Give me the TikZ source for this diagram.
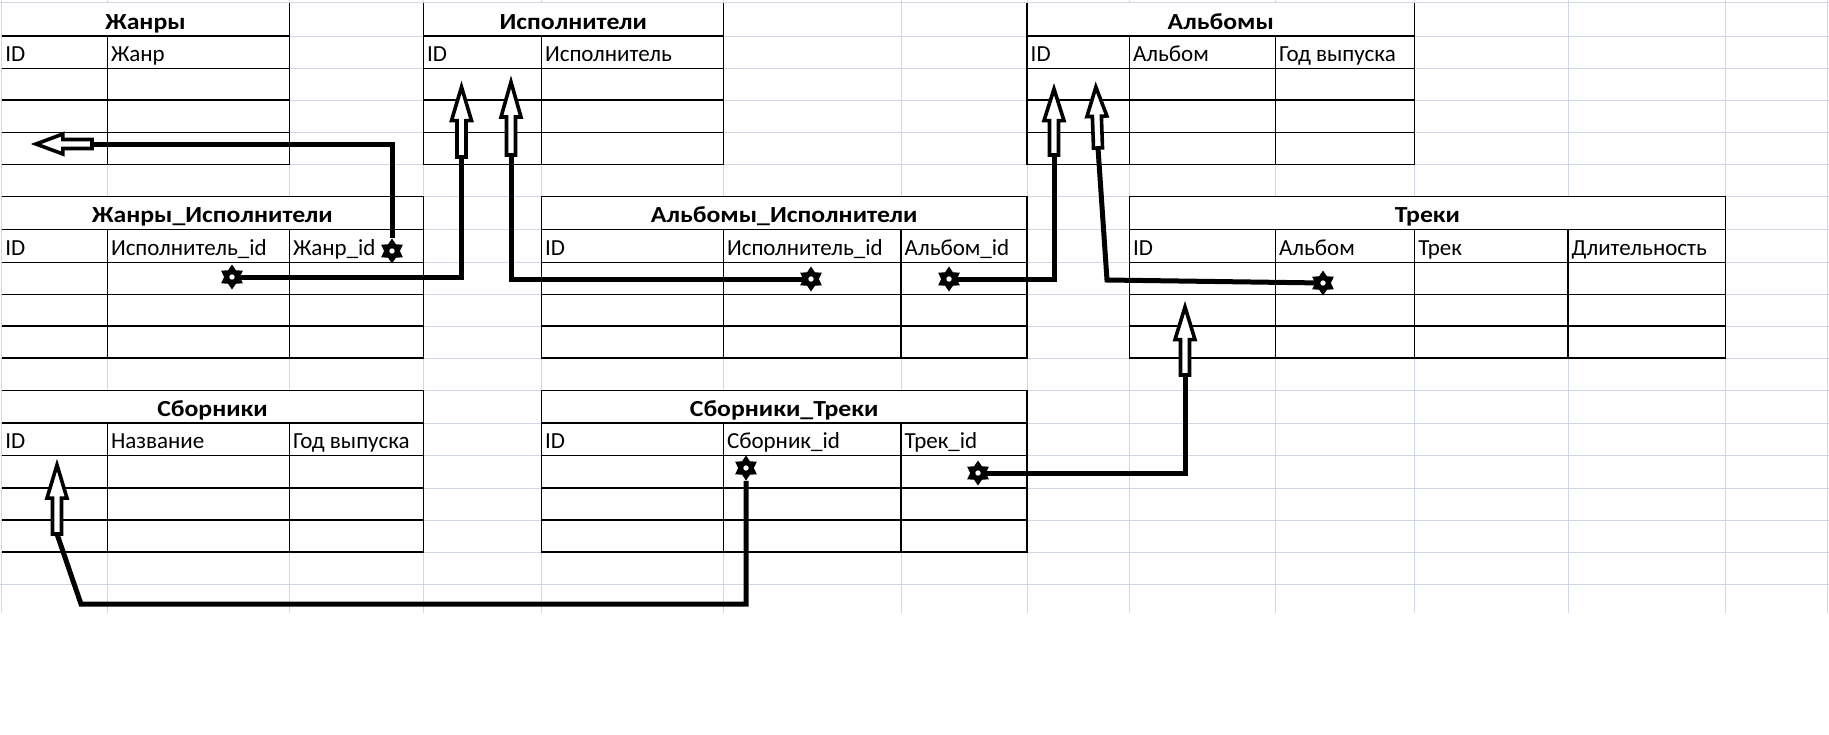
\documentclass[tikz,border=0pt]{standalone}
\usepackage{fontspec}
\setmainfont{Carlito}
\newfontfamily\titlefont{Carlito}[FakeStretch=1.12]
\usepackage{tikz}
\usetikzlibrary{shapes.geometric}

\definecolor{gridline}{RGB}{208,215,229}

\tikzset{
  gridrule/.style={draw=gridline, line width=1pt},
  cellrule/.style={draw=black, line width=1.2pt},
  celltext/.style={anchor=base west, inner sep=0pt, font=\fontsize{23}{27}\selectfont},
  tabletitle/.style={anchor=base, inner sep=0pt, font={\titlefont\bfseries\fontsize{23}{27}\selectfont}},
  link/.style={draw=black, line width=5pt},
  fkstar/.style={shape=star, star points=6, star point ratio=1.6, minimum size=25pt,
    inner sep=0pt, fill=black,
    path picture={\fill[white] (path picture bounding box.center) circle (2.7pt);}},
  idarrow/.style={draw=black, fill=white, line width=3.6pt},
}

% hollow arrow: tail, direction, length
\newcommand{\pkarrow}[3]{%
  \draw[idarrow, shift={(#1)}, rotate=#2]
    (0,-4.5) -- (#3*0.52,-4.5) -- (#3*0.52,-10) -- (#3,0) -- (#3*0.52,10)
    -- (#3*0.52,4.5) -- (0,4.5) -- cycle;}

\begin{document}
\begin{tikzpicture}[x=1pt,y=-1pt]
\useasboundingbox (0,0) rectangle (1829,734);
\fill[white] (0,0) rectangle (1829,734);

% сетка листа
\foreach \gx in {1.7,107.3,289.3,423.3,541.3,723.3,901,1027,1129.4,1275.4,1414.6,1568,1725.4,1827.7}
  \draw[gridrule] (\gx,0) -- (\gx,613.3);
\foreach \gy in {2.7,36,68.3,100,132.3,164.3,196.7,229.5,262.3,294.3,326,358,390.5,423,455.5,488,520,552,584}
  \draw[gridrule] (0,\gy) -- (1829,\gy);

% Жанры
\fill[white] (2.3,3.3) rectangle (289.3,36);
\draw[cellrule] (289.3,2.7) -- (289.3,164.3) -- (1.7,164.3);
\foreach \ry in {36,68.3,100,132.3} \draw[cellrule] (1.7,\ry) -- (289.3,\ry);
\draw[cellrule] (107.3,36) -- (107.3,164.3);
\node[tabletitle] (genres) at (145.5,29.3) {Жанры};
\node[celltext] (genres-id) at (5.2,61) {ID};
\node[celltext] (genres-name) at (110.8,61) {Жанр};

% Исполнители
\fill[white] (423.3,3.3) rectangle (723.3,36);
\draw[cellrule] (423.3,2.7) -- (423.3,164.3) -- (723.3,164.3) -- (723.3,2.7);
\foreach \ry in {36,68.3,100,132.3} \draw[cellrule] (423.3,\ry) -- (723.3,\ry);
\draw[cellrule] (541.3,36) -- (541.3,164.3);
\node[tabletitle] (artists) at (573.3,29.3) {Исполнители};
\node[celltext] (artists-id) at (426.8,61) {ID};
\node[celltext] (artists-name) at (544.8,61) {Исполнитель};

% Альбомы
\fill[white] (1027,3.3) rectangle (1414.6,36);
\draw[cellrule] (1027,2.7) -- (1027,164.3) -- (1414.6,164.3) -- (1414.6,2.7);
\foreach \ry in {36,68.3,100,132.3} \draw[cellrule] (1027,\ry) -- (1414.6,\ry);
\foreach \cx in {1129.4,1275.4} \draw[cellrule] (\cx,36) -- (\cx,164.3);
\node[tabletitle] (albums) at (1220.8,29.3) {Альбомы};
\node[celltext] (albums-id) at (1030.5,61) {ID};
\node[celltext] (albums-name) at (1132.9,61) {Альбом};
\node[celltext] (albums-year) at (1278.9,61) {Год выпуска};

% Жанры_Исполнители
\fill[white] (2.3,196.7) rectangle (423.3,229.5);
\draw[cellrule] (1.7,196.7) -- (423.3,196.7) -- (423.3,358) -- (1.7,358);
\foreach \ry in {229.5,262.3,294.3,326} \draw[cellrule] (1.7,\ry) -- (423.3,\ry);
\foreach \cx in {107.3,289.3} \draw[cellrule] (\cx,229.5) -- (\cx,358);
\node[tabletitle] (genreartist) at (212.5,222.5) {Жанры\_Исполнители};
\node[celltext] (ga-id) at (5.2,255.3) {ID};
\node[celltext] (ga-artist) at (110.8,255.3) {Исполнитель\_id};
\node[celltext] (ga-genre) at (292.8,255.3) {Жанр\_id};

% Альбомы_Исполнители
\fill[white] (541.3,196.7) rectangle (1027,229.5);
\draw[cellrule] (541.3,196.7) rectangle (1027,358);
\foreach \ry in {229.5,262.3,294.3,326} \draw[cellrule] (541.3,\ry) -- (1027,\ry);
\foreach \cx in {723.3,901} \draw[cellrule] (\cx,229.5) -- (\cx,358);
\node[tabletitle] (albumartist) at (784.2,222.5) {Альбомы\_Исполнители};
\node[celltext] (aa-id) at (544.8,255.3) {ID};
\node[celltext] (aa-artist) at (726.8,255.3) {Исполнитель\_id};
\node[celltext] (aa-album) at (904.5,255.3) {Альбом\_id};

% Треки
\fill[white] (1129.4,196.7) rectangle (1725.4,229.5);
\draw[cellrule] (1129.4,196.7) rectangle (1725.4,358);
\foreach \ry in {229.5,262.3,294.3,326} \draw[cellrule] (1129.4,\ry) -- (1725.4,\ry);
\foreach \cx in {1275.4,1414.6,1568} \draw[cellrule] (\cx,229.5) -- (\cx,358);
\node[tabletitle] (tracks) at (1427.4,222.5) {Треки};
\node[celltext] (tracks-id) at (1132.9,255.3) {ID};
\node[celltext] (tracks-album) at (1278.9,255.3) {Альбом};
\node[celltext] (tracks-name) at (1418.1,255.3) {Трек};
\node[celltext] (tracks-len) at (1571.5,255.3) {Длительность};

% Сборники
\fill[white] (2.3,390.5) rectangle (423.3,423);
\draw[cellrule] (1.7,390.5) -- (423.3,390.5) -- (423.3,552) -- (1.7,552);
\foreach \ry in {423,455.5,488,520} \draw[cellrule] (1.7,\ry) -- (423.3,\ry);
\foreach \cx in {107.3,289.3} \draw[cellrule] (\cx,423) -- (\cx,552);
\node[tabletitle] (comps) at (212.5,416) {Сборники};
\node[celltext] (comps-id) at (5.2,448.5) {ID};
\node[celltext] (comps-name) at (110.8,448.5) {Название};
\node[celltext] (comps-year) at (292.8,448.5) {Год выпуска};

% Сборники_Треки
\fill[white] (541.3,390.5) rectangle (1027,423);
\draw[cellrule] (541.3,390.5) rectangle (1027,552);
\foreach \ry in {423,455.5,488,520} \draw[cellrule] (541.3,\ry) -- (1027,\ry);
\foreach \cx in {723.3,901} \draw[cellrule] (\cx,423) -- (\cx,552);
\node[tabletitle] (comptrack) at (784.2,416) {Сборники\_Треки};
\node[celltext] (ct-id) at (544.8,448.5) {ID};
\node[celltext] (ct-comp) at (726.8,448.5) {Сборник\_id};
\node[celltext] (ct-track) at (904.5,448.5) {Трек\_id};

% внешние ключи
\node[fkstar] (s1) at (392,251) {};
\node[fkstar] (s2) at (232,277) {};
\node[fkstar] (s3) at (811,279) {};
\node[fkstar] (s4) at (949,279) {};
\node[fkstar] (s5) at (1323,283) {};
\node[fkstar] (s6) at (978,473) {};
\node[fkstar] (s7) at (746,468) {};

% концы стрелок у ID
\coordinate (tA) at (92,144);
\coordinate (tB) at (461.5,157);
\coordinate (tC) at (511,155);
\coordinate (tD) at (1054,155);
\coordinate (eCorner) at (1107,280);
\coordinate (tE) at (1098,148);
\coordinate (tF) at (1185,375);
\coordinate (gCorner) at (81,604);
\coordinate (tG) at (57,534);

% связи
\draw[link] (s1) |- (tA);
\draw[link] (s2) -| (tB);
\draw[link] (s3) -| (tC);
\draw[link] (s4) -| (tD);
\draw[link] (s5) -- (eCorner) -- (tE);
\draw[link] (s6) -| (tF);
\draw[link] (s7) |- (gCorner) -- (tG);

% стрелки
\pkarrow{tA}{180}{56}
\pkarrow{tB}{90}{70}
\pkarrow{tC}{90}{73}
\pkarrow{tD}{90}{66}
\pkarrow{tE}{92}{61}
\pkarrow{tF}{90}{68}
\pkarrow{tG}{90}{69}
\end{tikzpicture}
\end{document}
